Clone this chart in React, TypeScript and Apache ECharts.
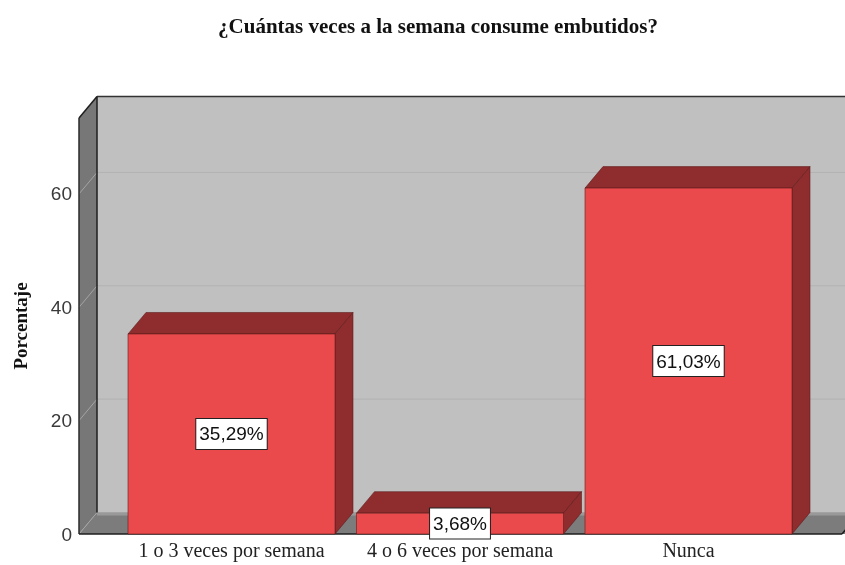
import React, { useEffect, useRef } from "react";
import * as echarts from "echarts";

const titleText = "¿Cuántas veces a la semana consume embutidos?";
const yAxisTitle = "Porcentaje";
const categories = ["1 o 3 veces por semana", "4 o 6 veces por semana", "Nunca"];
const percentages = [35.29, 3.68, 61.03];
const yTicks = [0, 20, 40, 60];
const yMax = 73.4;

// 3D depth offsets (layout)
const DX = 18;
const DY = 21.5;

const SERIF = '"Liberation Serif", "Times New Roman", serif';
const SANS = '"Liberation Sans", Arial, sans-serif';

function fmt(v: number) {
  return v.toFixed(2).replace(".", ",") + "%";
}

export default function App() {
  const ref = useRef<HTMLDivElement>(null);

  useEffect(() => {
    if (!ref.current) return;
    const chart = echarts.init(ref.current, undefined, { renderer: "svg" });

    const renderBackground = (params: any, api: any) => {
      const fl = api.coord([0, 0]);
      const fr = api.coord([1, 0]);
      const tl = api.coord([0, yMax]);
      const tr = api.coord([1, yMax]);
      const ext = 40;
      const children: any[] = [];
      // back wall
      children.push({
        type: "rect",
        shape: { x: tl[0] + DX, y: tl[1] - DY, width: tr[0] - tl[0] + ext, height: fl[1] - tl[1] },
        style: { fill: "#c0c0c0" },
      });
      // left wall
      children.push({
        type: "polygon",
        shape: { points: [[tl[0], tl[1]], [tl[0] + DX, tl[1] - DY], [fl[0] + DX, fl[1] - DY], [fl[0], fl[1]]] },
        style: { fill: "#777777" },
      });
      // floor
      children.push({
        type: "polygon",
        shape: { points: [[fl[0], fl[1]], [fl[0] + DX, fl[1] - DY], [fr[0] + DX + ext, fr[1] - DY], [fr[0] + ext, fr[1]]] },
        style: { fill: "#7c7c7c" },
      });
      // lighter band at back of floor
      children.push({
        type: "line",
        shape: { x1: fl[0] + DX, y1: fl[1] - DY + 1.5, x2: fr[0] + DX + ext, y2: fr[1] - DY + 1.5 },
        style: { stroke: "#999999", lineWidth: 3 },
      });
      // grid lines
      yTicks.forEach((t) => {
        const p = api.coord([0, t]);
        if (t > 0) {
          children.push({
            type: "line",
            shape: { x1: p[0] + DX, y1: p[1] - DY, x2: fr[0] + DX + ext, y2: p[1] - DY },
            style: { stroke: "#b2b2b2", lineWidth: 1 },
          });
        }
        children.push({
          type: "line",
          shape: { x1: p[0], y1: p[1], x2: p[0] + DX, y2: p[1] - DY },
          style: { stroke: "#a4a4a4", lineWidth: 1 },
        });
      });
      // edges
      const edge = { stroke: "#1e1e1e", lineWidth: 1.5 };
      children.push({ type: "line", shape: { x1: tl[0] + DX, y1: tl[1] - DY, x2: fl[0] + DX, y2: fl[1] - DY }, style: edge });
      children.push({ type: "line", shape: { x1: tl[0] + DX, y1: tl[1] - DY, x2: tr[0] + DX + ext, y2: tr[1] - DY }, style: { stroke: "#333", lineWidth: 1.5 } });
      children.push({ type: "line", shape: { x1: tl[0], y1: tl[1], x2: tl[0] + DX, y2: tl[1] - DY }, style: edge });
      children.push({ type: "line", shape: { x1: tl[0], y1: tl[1], x2: fl[0], y2: fl[1] }, style: { stroke: "#2a2a2a", lineWidth: 1.5 } });
      children.push({ type: "line", shape: { x1: fl[0], y1: fl[1], x2: fr[0], y2: fr[1] }, style: edge });
      children.push({ type: "line", shape: { x1: fr[0], y1: fr[1], x2: fr[0] + DX, y2: fr[1] - DY }, style: edge });
      return { type: "group", children };
    };

    const renderBar = (params: any, api: any) => {
      const idx = api.value(0);
      const val = api.value(1);
      const base = api.coord([idx, 0]);
      const top = api.coord([idx, val]);
      const bw = api.size([1, 0])[0] * 0.906;
      const L = base[0] - bw / 2;
      const R = base[0] + bw / 2;
      const T = top[1];
      const B = base[1];
      const dark = "#8f2c2e";
      const stroke = "rgba(90,25,25,0.7)";
      return {
        type: "group",
        children: [
          {
            type: "polygon",
            shape: { points: [[L, T], [L + DX, T - DY], [R + DX, T - DY], [R, T]] },
            style: { fill: dark, stroke, lineWidth: 0.8 },
          },
          {
            type: "polygon",
            shape: { points: [[R, T], [R + DX, T - DY], [R + DX, B - DY], [R, B]] },
            style: { fill: dark, stroke, lineWidth: 0.8 },
          },
          {
            type: "rect",
            shape: { x: L, y: T, width: R - L, height: B - T },
            style: { fill: "#eb4a4c", stroke, lineWidth: 0.8 },
          },
          {
            type: "text",
            x: base[0],
            y: (T + B) / 2,
            style: {
              text: fmt(val),
              fill: "#111",
              fontSize: 19,
              fontFamily: SANS,
              align: "center",
              verticalAlign: "middle",
              backgroundColor: "#ffffff",
              borderColor: "#222",
              borderWidth: 1,
              padding: [6, 3, 5, 3],
            },
          },
        ],
      };
    };

    chart.setOption({
      animation: false,
      title: {
        text: titleText,
        left: 433,
        textAlign: "center",
        top: 10,
        textStyle: { fontFamily: SERIF, fontWeight: "bold", fontSize: 21, color: "#111" },
      },
      grid: [
        { left: 79, right: 3, top: 118, bottom: 31 },
        { left: 117.25, right: 42.25, top: 118, bottom: 31 },
      ],
      xAxis: [
        { type: "value", gridIndex: 0, min: 0, max: 1, show: false },
        {
          type: "category",
          gridIndex: 1,
          data: categories,
          axisLine: { show: false },
          axisTick: { show: false },
          axisLabel: { fontFamily: SERIF, fontSize: 20, color: "#222", margin: 6, interval: 0, hideOverlap: false },
        },
      ],
      yAxis: [
        {
          type: "value",
          gridIndex: 0,
          min: 0,
          max: yMax,
          interval: 20,
          axisLine: { show: false },
          axisTick: { show: false },
          splitLine: { show: false },
          axisLabel: {
            fontFamily: SANS,
            fontSize: 19,
            color: "#3a3a3a",
            margin: 7,
            formatter: (v: number) => (yTicks.indexOf(v) >= 0 ? String(v) : ""),
          },
          name: yAxisTitle,
          nameLocation: "middle",
          nameRotate: 90,
          nameGap: 49,
          nameTextStyle: { fontFamily: SERIF, fontWeight: "bold", fontSize: 19, color: "#111" },
        },
        { type: "value", gridIndex: 1, min: 0, max: yMax, show: false },
      ],
      series: [
        {
          type: "custom",
          xAxisIndex: 0,
          yAxisIndex: 0,
          data: [[0]],
          renderItem: renderBackground,
          z: 1,
          silent: true,
        },
        {
          type: "custom",
          xAxisIndex: 1,
          yAxisIndex: 1,
          data: percentages.map((v, i) => [i, v]),
          renderItem: renderBar,
          z: 2,
        },
      ],
    });

    return () => chart.dispose();
  }, []);

  return (
    <div
      ref={ref}
      style={{ position: "fixed", left: 0, top: 0, width: 845, height: 565 }}
    />
  );
}
